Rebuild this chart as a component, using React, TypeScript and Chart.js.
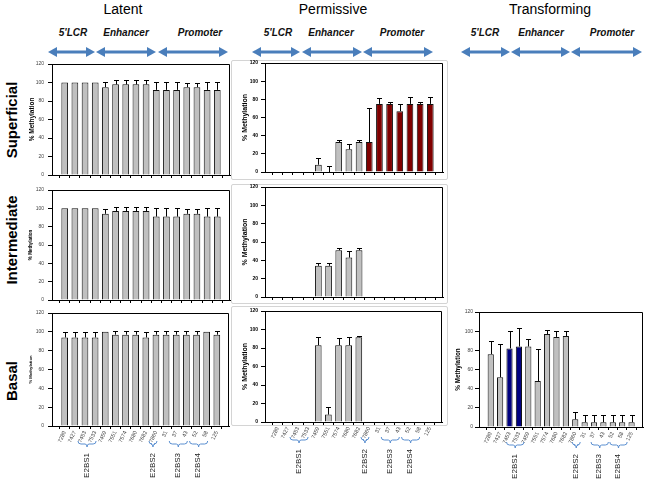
import React, { useEffect, useRef } from "react";
import { Chart, registerables } from "chart.js";
Chart.register(...registerables);

// ---------- data ----------
const categories = ["7289", "7427", "7453", "7533", "7459", "7551", "7574", "7680", "7682", "7860", "31", "37", "43", "52", "58", "125"];

const latentSuperficial = [100, 100, 100, 100, 95, 98, 98, 98, 98, 92, 92, 92, 95, 95, 92, 92];
const latentSuperficialErr = [0, 0, 0, 0, 5, 4.5, 4.5, 4.5, 4.5, 8, 8, 8, 4, 4, 8, 8];
const latentIntermediate = [100, 100, 100, 100, 94, 97, 97, 97, 97, 91, 91, 91, 94, 94, 91, 91];
const latentIntermediateErr = [0, 0, 0, 0, 5, 4.5, 4.5, 4.5, 4.5, 9, 9, 9, 5, 5, 9, 9];
const latentBasal = [94, 94, 94, 94, 100, 97, 97, 97, 94, 97, 97, 97, 97, 97, 100, 97];
const latentBasalErr = [6, 6, 6, 6, 0, 4, 4, 4, 6, 4, 4, 4, 4, 4, 0, 4];

const permissiveSuperficial = [null, null, null, null, 8, null, 33, 25, 33, 33, 75, 75, 67, 75, 75, 75];
const permissiveSuperficialErr = [0, 0, 0, 0, 7, 7, 2, 6, 2, 38, 6, 2.5, 8, 8, 2.5, 8];
const permissiveIntermediate = [null, null, null, null, 34, 34, 51, 43, 51, null, null, null, null, null, null, null];
const permissiveIntermediateErr = [0, 0, 0, 0, 3, 3, 2, 7, 2, 0, 0, 0, 0, 0, 0, 0];
const permissiveBasal = [null, null, null, null, 83, 8, 83, 83, 91.5, null, null, null, null, null, null, null];
const permissiveBasalErr = [0, 0, 0, 0, 9, 8, 8, 9, 2, 0, 0, 0, 0, 0, 0, 0];

const transformingBasal = [76, 52, 82, 84, 84, 48, 97, 94, 95, 8, 5, 5, 5, 5, 5, 5];
const transformingBasalErr = [14, 35, 18, 19, 8, 33, 4, 6, 5, 8, 7.5, 7.5, 7.5, 7.5, 7.5, 7.5];

const redBars = [9, 10, 11, 12, 13, 14, 15];
const navyBars = [2, 3];

const bindingSites = [
  { label: "E2BS1", from: 2, to: 3 },
  { label: "E2BS2", from: 9, to: 9 },
  { label: "E2BS3", from: 11, to: 12 },
  { label: "E2BS4", from: 13, to: 14 },
];

const columnTitles = ["Latent", "Permissive", "Transforming"];
const regionLabels = ["5'LCR", "Enhancer", "Promoter"];
const rowTitles = ["Superficial", "Intermediate", "Basal"];

// ---------- styles ----------
const FONT = "'Liberation Sans', Arial, Helvetica, sans-serif";
const GREY = "#c0c0c0";
const RED = "#800000";
const NAVY = "#000080";
const ARROW = "#4a7ebb";
const BRACE = "#5b8fd0";

type PanelProps = {
  left: number;
  top: number;
  width: number;
  height: number;
  yW: number;
  values: (number | null)[];
  errors: number[];
  colors: string[];
  showLabels: boolean;
  titleSize: number;
  tickBold?: boolean;
  tickPad: number;
  braceShift?: number;
};

const PAD_T = 5;
const PAD_R = 4;

function Panel(p: PanelProps) {
  const ref = useRef<HTMLCanvasElement>(null);
  const xH = p.showLabels ? 480 - (p.top + p.height) : 5;
  const cw = p.yW + p.width + PAD_R;
  const ch = PAD_T + p.height + xH;

  useEffect(() => {
    const errorPlugin = {
      id: "errorBarsLocal",
      afterDatasetsDraw(chart: any) {
        const xs = chart.scales.x;
        const ys = chart.scales.y;
        const ctx = chart.ctx;
        ctx.save();
        ctx.strokeStyle = "#000";
        ctx.lineWidth = 1;
        p.errors.forEach((e, i) => {
          if (!e) return;
          const v = p.values[i] ?? 0;
          const x = Math.round(xs.getPixelForValue(i)) + 0.5;
          const y0 = ys.getPixelForValue(v);
          const y1 = Math.round(ys.getPixelForValue(v + e)) + 0.5;
          ctx.beginPath();
          ctx.moveTo(x, y0);
          ctx.lineTo(x, y1);
          ctx.moveTo(x - 2.5, y1);
          ctx.lineTo(x + 2.5, y1);
          ctx.stroke();
        });
        ctx.restore();
      },
    };
    const framePlugin = {
      id: "frameLocal",
      afterDraw(chart: any) {
        const a = chart.chartArea;
        const ctx = chart.ctx;
        ctx.save();
        ctx.strokeStyle = "#000";
        ctx.lineWidth = 1;
        const t = Math.round(a.top) + 0.5;
        const r = Math.round(a.right) - 0.5;
        ctx.beginPath();
        ctx.moveTo(Math.round(a.left), t);
        ctx.lineTo(r, t);
        ctx.lineTo(r, Math.round(a.bottom));
        ctx.stroke();
        ctx.restore();
      },
    };
    const bracePlugin = {
      id: "braceLocal",
      afterDraw(chart: any) {
        if (!p.showLabels) return;
        const xs = chart.scales.x;
        const ctx = chart.ctx;
        const yT = chart.chartArea.bottom + 15;
        const sh = p.braceShift ?? 0;
        ctx.save();
        bindingSites.forEach((g) => {
          const x1 = xs.getPixelForValue(g.from) - 6 + sh;
          const x2 = xs.getPixelForValue(g.to) + 2 + sh;
          const xm = (x1 + x2) / 2;
          ctx.strokeStyle = BRACE;
          ctx.lineWidth = 1;
          ctx.beginPath();
          ctx.moveTo(x1, yT);
          ctx.quadraticCurveTo(x1, yT + 3, x1 + 3, yT + 3);
          ctx.lineTo(xm - 2, yT + 3);
          ctx.quadraticCurveTo(xm, yT + 3, xm, yT + 6);
          ctx.quadraticCurveTo(xm, yT + 3, xm + 2, yT + 3);
          ctx.lineTo(x2 - 3, yT + 3);
          ctx.quadraticCurveTo(x2, yT + 3, x2, yT);
          ctx.stroke();
          ctx.save();
          ctx.translate(xm - 0.5, yT + 12);
          ctx.rotate(-Math.PI / 2);
          ctx.fillStyle = "#222";
          ctx.font = `8px ${FONT}`;
          ctx.textAlign = "right";
          ctx.textBaseline = "middle";
          ctx.fillText(g.label, 0, 0);
          ctx.restore();
        });
        ctx.restore();
      },
    };

    const chart = new Chart(ref.current as HTMLCanvasElement, {
      type: "bar",
      data: {
        datasets: [
          {
            data: p.values.map((v, i) => ({ x: i, y: v })) as any,
            backgroundColor: p.colors,
            borderColor: "#111",
            borderWidth: 1,
            borderSkipped: "start",
            barPercentage: 0.66,
            categoryPercentage: 1,
          },
        ],
      },
      options: {
        animation: false,
        responsive: false,
        maintainAspectRatio: false,
        devicePixelRatio: 1,
        layout: { padding: { top: PAD_T, right: PAD_R, left: 0, bottom: 0 } },
        plugins: { legend: { display: false }, tooltip: { enabled: false } },
        scales: {
          x: {
            type: "linear",
            min: -1.25,
            max: 16.25,
            offset: false,
            afterBuildTicks: (s: any) => {
              const arr = [];
              for (let i = -1; i <= 16; i++) arr.push({ value: i });
              s.ticks = arr;
            },
            afterFit: (s: any) => {
              s.height = xH;
            },
            grid: { drawOnChartArea: false, drawTicks: true, tickLength: 3, color: "#000" },
            border: { color: "#000", width: 1 },
            ticks: {
              display: p.showLabels,
              autoSkip: false,
              minRotation: 65,
              maxRotation: 65,
              padding: 1,
              color: "#444",
              font: { size: 5.5, family: FONT },
              callback: (v: any) => categories[v as number] ?? "",
            },
          },
          y: {
            min: 0,
            max: 120,
            afterFit: (s: any) => {
              s.width = p.yW;
            },
            grid: { drawOnChartArea: false, drawTicks: true, tickLength: 4, color: "#000" },
            border: { color: "#000", width: 1 },
            ticks: {
              stepSize: 20,
              padding: p.tickPad,
              color: p.tickBold ? "#000" : "#444",
              font: { size: 5, family: FONT, weight: p.tickBold ? "bold" : "normal" },
            },
            title: {
              display: true,
              text: "% Methylation",
              color: "#000",
              padding: 0,
              font: { size: p.titleSize, family: FONT, weight: "bold" },
            },
          },
        },
      },
      plugins: [errorPlugin, framePlugin, bracePlugin],
    });
    return () => chart.destroy();
  }, []);

  return (
    <canvas
      ref={ref}
      width={cw}
      height={ch}
      style={{ position: "absolute", left: p.left - p.yW, top: p.top - PAD_T, width: cw, height: ch }}
    />
  );
}

function colorsFor(kind: "grey" | "red" | "navy") {
  return categories.map((_, i) => {
    if (kind === "red" && redBars.includes(i)) return RED;
    if (kind === "navy" && navyBars.includes(i)) return NAVY;
    return GREY;
  });
}

function DoubleArrow({ x1, x2, y }: { x1: number; x2: number; y: number }) {
  const h = 9;
  const w = 5;
  return (
    <g fill={ARROW} stroke="none">
      <rect x={x1 + h - 1} y={y - 1.5} width={x2 - x1 - 2 * h + 2} height={3} />
      <polygon points={`${x1},${y} ${x1 + h},${y - w} ${x1 + h},${y + w}`} />
      <polygon points={`${x2},${y} ${x2 - h},${y - w} ${x2 - h},${y + w}`} />
    </g>
  );
}

export default function App() {
  const titleX = [123, 333, 550];
  const subX = [
    [73, 126, 200],
    [278, 331, 402],
    [485, 541, 612],
  ];
  const arrows = [
    [48, 95], [96, 156], [158, 228],
    [252, 300], [302, 362], [363, 433],
    [461, 510], [511, 570], [571, 642],
  ];
  const rowY = [120, 240, 381];

  return (
    <div style={{ position: "absolute", left: 0, top: 0, width: 661, height: 480, background: "#fff", overflow: "hidden", fontFamily: FONT }}>
      {columnTitles.map((t, i) => (
        <div key={t} style={{ position: "absolute", left: titleX[i], top: 1, transform: "translateX(-50%)", fontSize: 14, whiteSpace: "nowrap", color: "#000" }}>
          {t}
        </div>
      ))}
      {subX.map((row, c) =>
        row.map((x, j) => (
          <div key={`${c}-${j}`} style={{ position: "absolute", left: x, top: 27, transform: "translateX(-50%)", fontSize: 10, fontStyle: "italic", fontWeight: "bold", whiteSpace: "nowrap", color: "#111" }}>
            {regionLabels[j]}
          </div>
        ))
      )}
      <svg width={661} height={70} style={{ position: "absolute", left: 0, top: 0 }}>
        {arrows.map(([a, b], i) => (
          <DoubleArrow key={i} x1={a} x2={b} y={52} />
        ))}
      </svg>
      {rowTitles.map((t, i) => (
        <div key={t} style={{ position: "absolute", left: 11, top: rowY[i], transform: "translate(-50%, -50%) rotate(-90deg)", fontSize: 15, fontWeight: "bold", whiteSpace: "nowrap", color: "#000" }}>
          {t}
        </div>
      ))}
      {[60, 184, 306].map((y, i) => (
        <div key={i} style={{ position: "absolute", left: 231, top: y, width: 215, height: 118, border: "1px solid #d4d4d4", borderRadius: 2 }} />
      ))}

      <Panel left={52} top={62} width={178} height={115} yW={24} values={latentSuperficial} errors={latentSuperficialErr} colors={colorsFor("grey")} showLabels={false} titleSize={6.5} tickPad={4} />
      <Panel left={52} top={188} width={178} height={114} yW={24} values={latentIntermediate} errors={latentIntermediateErr} colors={colorsFor("grey")} showLabels={false} titleSize={4.5} tickPad={4} />
      <Panel left={52} top={311} width={178} height={115} yW={24} values={latentBasal} errors={latentBasalErr} colors={colorsFor("grey")} showLabels={true} titleSize={4.2} tickPad={4} braceShift={-1} />

      <Panel left={265} top={62} width={178} height={111} yW={24} values={permissiveSuperficial} errors={permissiveSuperficialErr} colors={colorsFor("red")} showLabels={false} titleSize={7} tickBold tickPad={3} />
      <Panel left={265} top={186} width={178} height={112} yW={24} values={permissiveIntermediate} errors={permissiveIntermediateErr} colors={colorsFor("grey")} showLabels={false} titleSize={7} tickBold tickPad={3} />
      <Panel left={265} top={310} width={178} height={112} yW={24} values={permissiveBasal} errors={permissiveBasalErr} colors={colorsFor("grey")} showLabels={true} titleSize={7} tickBold tickPad={3} braceShift={-2} />

      <Panel left={479} top={312} width={165} height={115} yW={25} values={transformingBasal} errors={transformingBasalErr} colors={colorsFor("navy")} showLabels={true} titleSize={6.3} tickPad={2} braceShift={3} />
    </div>
  );
}
